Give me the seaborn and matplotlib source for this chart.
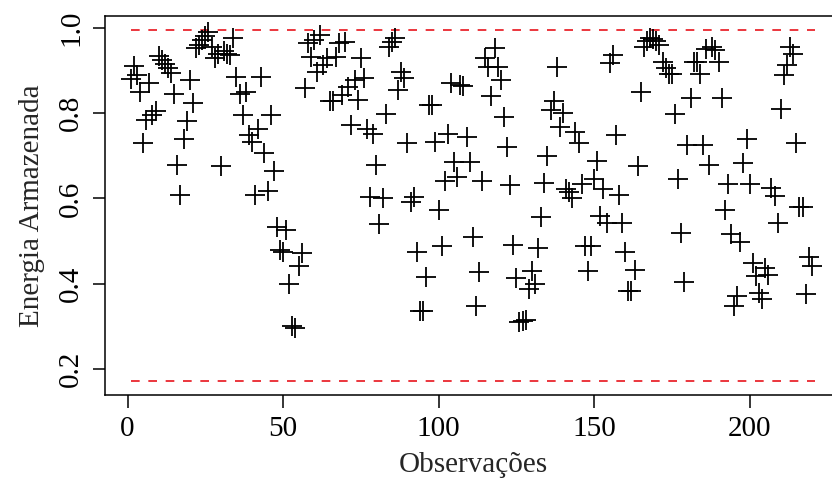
import matplotlib
matplotlib.use("Agg")
import matplotlib.pyplot as plt
import seaborn as sns
import numpy as np
import pandas as pd

energia = [
    0.88, 0.91, 0.89, 0.85, 0.73, 0.785, 0.87, 0.795, 0.805, 0.935,
    0.925, 0.915, 0.905, 0.895, 0.846, 0.678, 0.609, 0.74, 0.781, 0.878,
    0.823, 0.952, 0.96, 0.972, 0.98, 0.99, 0.955, 0.929, 0.939, 0.675,
    0.945, 0.94, 0.937, 0.977, 0.884, 0.844, 0.795, 0.849, 0.75, 0.733,
    0.609, 0.762, 0.884, 0.707, 0.617, 0.795, 0.664, 0.532, 0.478, 0.474,
    0.525, 0.40, 0.301, 0.297, 0.442, 0.472, 0.86, 0.964, 0.933, 0.972,
    0.897, 0.984, 0.913, 0.929, 0.828, 0.828, 0.933, 0.964, 0.842, 0.968,
    0.862, 0.772, 0.877, 0.831, 0.929, 0.882, 0.764, 0.603, 0.752, 0.678,
    0.54, 0.601, 0.797, 0.956, 0.968, 0.976, 0.854, 0.897, 0.882, 0.731,
    0.591, 0.603, 0.474, 0.336, 0.336, 0.415, 0.819, 0.82, 0.733, 0.574,
    0.488, 0.642, 0.752, 0.87, 0.685, 0.65, 0.866, 0.864, 0.744, 0.686,
    0.509, 0.348, 0.427, 0.642, 0.93, 0.909, 0.841, 0.954, 0.909, 0.878,
    0.79, 0.721, 0.632, 0.491, 0.413, 0.31, 0.313, 0.316, 0.388, 0.431,
    0.40, 0.484, 0.556, 0.636, 0.70, 0.807, 0.828, 0.909, 0.768, 0.80,
    0.623, 0.615, 0.60, 0.756, 0.73, 0.634, 0.489, 0.431, 0.489, 0.646,
    0.689, 0.56, 0.623, 0.543, 0.917, 0.936, 0.748, 0.609, 0.543, 0.475,
    0.384, 0.384, 0.433, 0.676, 0.85, 0.956, 0.97, 0.976, 0.975, 0.97,
    0.96, 0.921, 0.905, 0.893, 0.891, 0.797, 0.645, 0.519, 0.405, 0.725,
    0.835, 0.921, 0.921, 0.893, 0.725, 0.95, 0.679, 0.956, 0.948, 0.921,
    0.836, 0.574, 0.634, 0.517, 0.348, 0.372, 0.499, 0.683, 0.74, 0.634,
    0.449, 0.419, 0.378, 0.365, 0.436, 0.42, 0.624, 0.605, 0.543, 0.809,
    0.889, 0.913, 0.956, 0.94, 0.731, 0.58, 0.58, 0.376, 0.462, 0.441,
]
observacoes = list(range(1, len(energia) + 1))
limites = [0.172, 0.996]
limite_x = [1, 221]
xticks = [0, 50, 100, 150, 200]
yticks = [0.2, 0.4, 0.6, 0.8, 1.0]

sns.set_style("ticks")
plt.rcParams["font.family"] = ["Liberation Serif", "DejaVu Serif"]

fig = plt.figure(figsize=(8.32, 4.83), dpi=100)
ax = fig.add_axes([104.8 / 832, (483 - 395) / 483, 737.6 / 832, 379 / 483])

df = pd.DataFrame({"x": observacoes, "y": energia})
sns.scatterplot(data=df, x="x", y="y", marker="+", s=200, color="black",
                linewidth=1.3, ax=ax, zorder=3)

for lim in limites:
    ax.plot(limite_x, [lim, lim], color="#e8141c", linestyle=(0, (5.2, 5.2)),
            linewidth=1.2, zorder=2)

ax.set_xlim(-7.3, 229.8)
ax.set_ylim(0.139, 1.028)
ax.set_xticks(xticks)
ax.set_xticklabels([str(t) for t in xticks])
ax.set_yticks(yticks)
ax.set_yticklabels([f"{t:.1f}" for t in yticks], rotation=90, va="center")

ax.tick_params(axis="both", direction="out", length=9, width=1.1,
               labelsize=21, color="black", labelcolor="black", pad=6)
for sp in ax.spines.values():
    sp.set_linewidth(1.1)
    sp.set_color("black")

ax.set_xlabel("Observações", fontsize=21, labelpad=7)
ax.set_ylabel("Energia Armazenada", fontsize=21, labelpad=9)

fig.savefig("out.png", dpi=100)
